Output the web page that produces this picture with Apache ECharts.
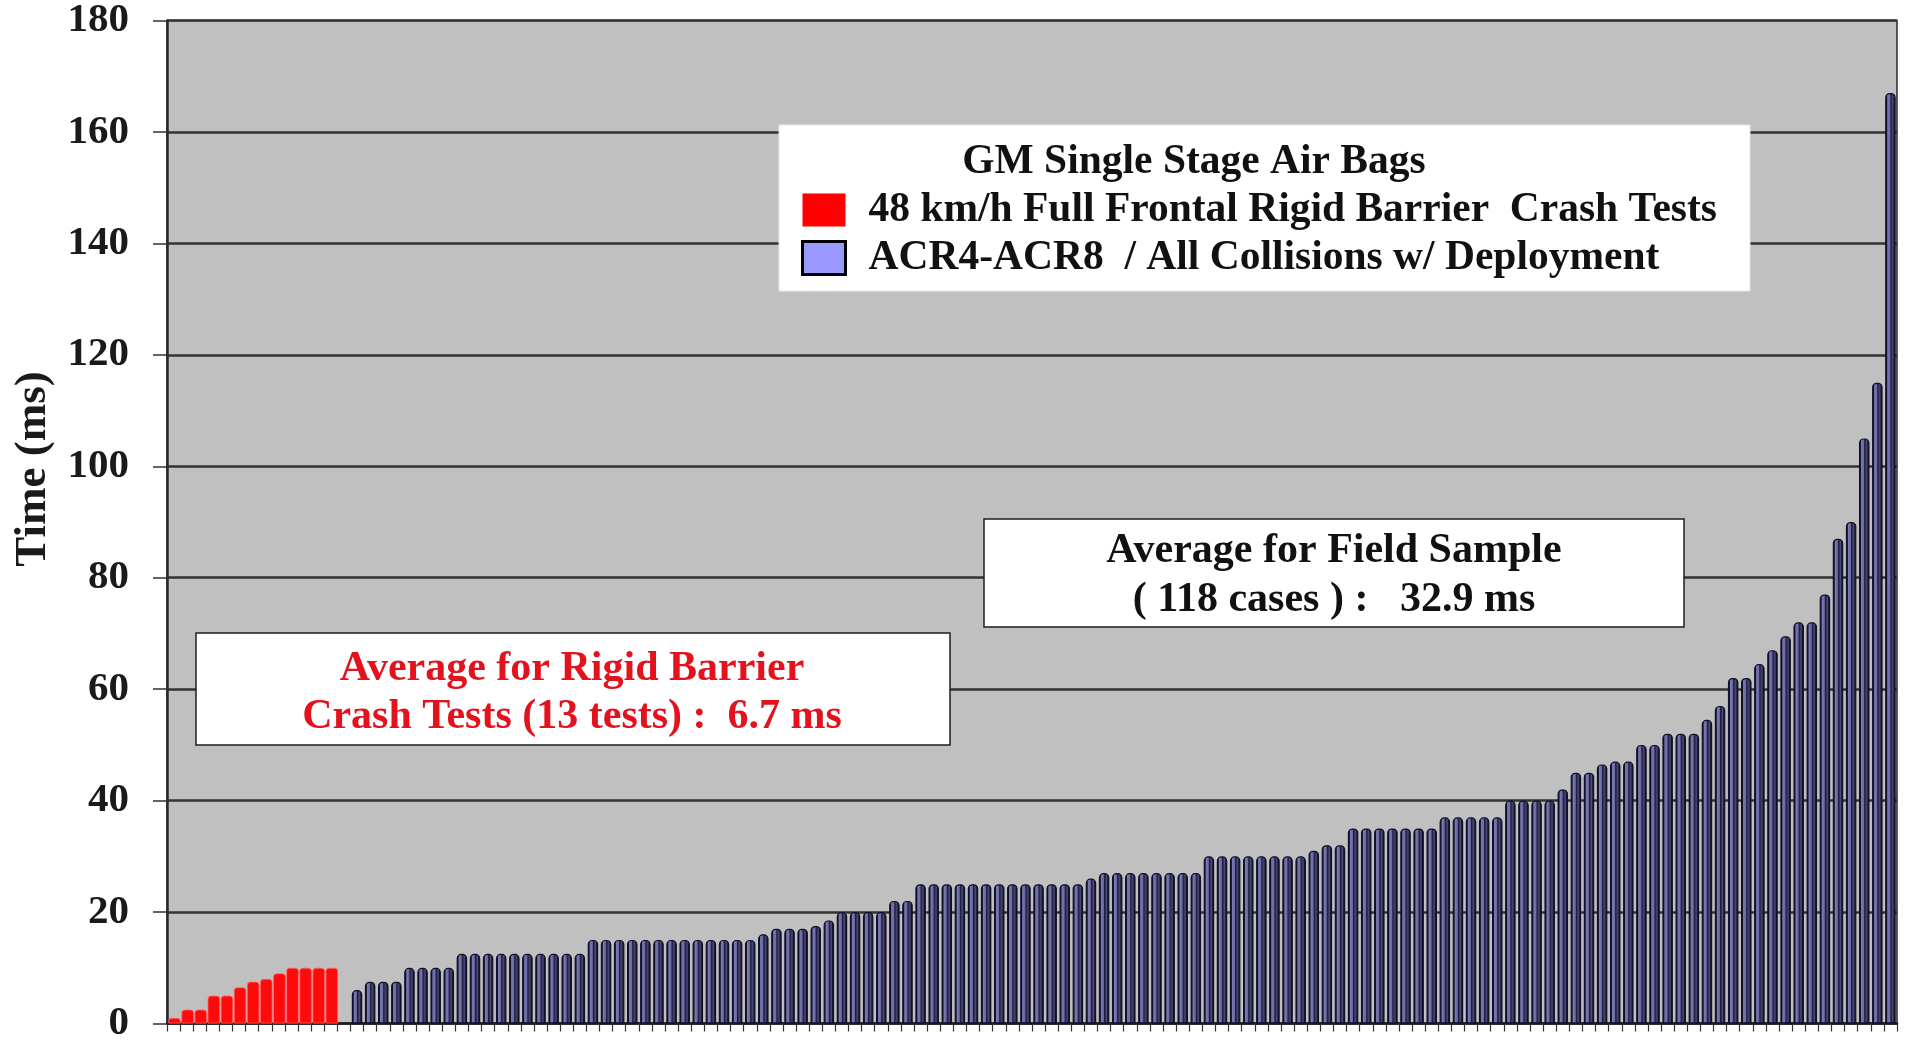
<!DOCTYPE html>
<html>
<head>
<meta charset="utf-8">
<title>GM Single Stage Air Bags – deployment time</title>
<script src="https://cdn.jsdelivr.net/npm/echarts@6/dist/echarts.min.js"></script>
<style>
  html, body { margin: 0; padding: 0; background: #ffffff; }
  #chart { width: 1909px; height: 1044px; }
</style>
</head>
<body>
<div id="chart"></div>
<script>
// Deployment time (ms) for each 48 km/h rigid barrier crash test, sorted
const barrierTests = [1, 2.5, 2.5, 5, 5, 6.5, 7.5, 8, 9, 10, 10, 10, 10];

// Deployment time (ms) for each field collision (ACR4-ACR8), sorted
const fieldCases = [
  6, 7.5, 7.5, 7.5, 10, 10, 10, 10,
  12.5, 12.5, 12.5, 12.5, 12.5, 12.5, 12.5, 12.5, 12.5, 12.5,
  15, 15, 15, 15, 15, 15, 15, 15, 15, 15, 15, 15, 15,
  16, 17, 17, 17, 17.5, 18.5, 20, 20, 20, 20, 22, 22,
  25, 25, 25, 25, 25, 25, 25, 25, 25, 25, 25, 25, 25,
  26, 27, 27, 27, 27, 27, 27, 27, 27,
  30, 30, 30, 30, 30, 30, 30, 30,
  31, 32, 32, 35, 35, 35, 35, 35, 35, 35,
  37, 37, 37, 37, 37, 40, 40, 40, 40,
  42, 45, 45, 46.5, 47, 47, 50, 50, 52, 52, 52,
  54.5, 57, 62, 62, 64.5, 67, 69.5, 72, 72, 77,
  87, 90, 105, 115, 167
];

const yTicks = [0, 20, 40, 60, 80, 100, 120, 140, 160, 180];

const legendTitle = 'GM Single Stage Air Bags';
const barrierName = '48 km/h Full Frontal Rigid Barrier  Crash Tests';
const fieldName = 'ACR4-ACR8  / All Collisions w/ Deployment';
const barrierNote = ['Average for Rigid Barrier', 'Crash Tests (13 tests) :  6.7 ms'];
const fieldNote = ['Average for Field Sample', '( 118 cases ) :   32.9 ms'];

// one slot per test, an empty slot, then one slot per field case
const categories = [];
barrierTests.forEach((_, i) => categories.push('T' + (i + 1)));
categories.push('');
fieldCases.forEach((_, i) => categories.push('C' + (i + 1)));

const gapSlots = 1;
const barrierData = barrierTests.concat(new Array(gapSlots + fieldCases.length).fill('-'));
const fieldData = new Array(barrierTests.length + gapSlots).fill('-').concat(fieldCases);

const serif = "'Liberation Serif', 'Times New Roman', serif";

const chart = echarts.init(document.getElementById('chart'), null, { renderer: 'canvas' });

chart.setOption({
  animation: false,
  backgroundColor: '#ffffff',
  grid: {
    left: 167, right: 12, top: 18, bottom: 15,
    show: true,
    backgroundColor: '#c0c0c0',
    borderColor: '#2a2a2a',
    borderWidth: 1.5
  },
  xAxis: {
    type: 'category',
    data: categories,
    boundaryGap: true,
    axisLine: { show: true, lineStyle: { color: '#1e1e1e', width: 2.5 } },
    axisTick: { show: true, interval: 0, inside: false, length: 8, lineStyle: { color: '#333333', width: 1.2 } },
    axisLabel: { show: false },
    splitLine: { show: false }
  },
  yAxis: {
    type: 'value',
    min: yTicks[0],
    max: yTicks[yTicks.length - 1],
    interval: yTicks[1] - yTicks[0],
    axisLine: { show: true, lineStyle: { color: '#2a2a2a', width: 2.5 } },
    axisTick: { show: true, inside: false, length: 14, lineStyle: { color: '#333333', width: 1.5 } },
    axisLabel: {
      margin: 38,
      color: '#1a1a1a',
      fontFamily: serif,
      fontWeight: 'bold',
      fontSize: 41
    },
    splitLine: { show: true, lineStyle: { color: '#333333', width: 2.5 } }
  },
  legend: {
    orient: 'vertical',
    left: 796,
    top: 184,
    itemWidth: 43,
    itemHeight: 33,
    itemGap: 6,
    selectedMode: false,
    icon: 'rect',
    z: 6,
    textStyle: {
      fontFamily: serif,
      fontWeight: 'bold',
      fontSize: 41.5,
      color: '#111111',
      lineHeight: 33,
      padding: [0, 0, 0, 18]
    },
    data: [
      { name: barrierName, itemStyle: { color: '#ff0000', borderWidth: 0 } },
      { name: fieldName, itemStyle: { color: '#9999ff', borderColor: '#000000', borderWidth: 3 } }
    ]
  },
  series: [
    {
      name: barrierName,
      type: 'bar',
      data: barrierData,
      barWidth: 12.5,
      barGap: '-100%',
      itemStyle: {
        color: '#ff0a0a',
        borderColor: '#ff6a6a',
        borderWidth: 0.8,
        borderRadius: [3, 3, 0, 0]
      }
    },
    {
      name: fieldName,
      type: 'bar',
      data: fieldData,
      barWidth: 10.5,
      barGap: '-100%',
      itemStyle: {
        color: {
          type: 'linear', x: 0, y: 0, x2: 1, y2: 0,
          colorStops: [
            { offset: 0, color: '#101028' },
            { offset: 0.14, color: '#101028' },
            { offset: 0.24, color: '#7878b4' },
            { offset: 0.44, color: '#6a6aa4' },
            { offset: 0.54, color: '#1e1e3c' },
            { offset: 0.74, color: '#4a4a78' },
            { offset: 0.87, color: '#101028' },
            { offset: 1, color: '#101028' }
          ]
        },
        borderColor: '#101028',
        borderWidth: 1.2,
        borderRadius: [4, 4, 0, 0]
      }
    }
  ],
  graphic: [
    // axis title
    {
      type: 'text',
      x: 33, y: 469,
      rotation: Math.PI / 2,
      z: 10,
      style: {
        text: 'Time (ms)',
        fontFamily: serif, fontWeight: 'bold', fontSize: 45,
        fill: '#1a1a1a',
        align: 'center', verticalAlign: 'middle'
      }
    },
    // legend panel
    {
      type: 'rect',
      z: 5,
      shape: { x: 779, y: 125, width: 971, height: 166 },
      style: { fill: '#ffffff', stroke: '#e6e6e6', lineWidth: 1 }
    },
    {
      type: 'text',
      x: 1194, y: 162, z: 10,
      style: {
        text: legendTitle,
        fontFamily: serif, fontWeight: 'bold', fontSize: 41.5,
        fill: '#111111', align: 'center', verticalAlign: 'middle'
      }
    },
    // field sample note
    {
      type: 'rect',
      z: 5,
      shape: { x: 984, y: 519, width: 700, height: 108 },
      style: { fill: '#ffffff', stroke: '#1e1e1e', lineWidth: 1.5 }
    },
    {
      type: 'text',
      x: 1334, y: 551, z: 10,
      style: {
        text: fieldNote[0],
        fontFamily: serif, fontWeight: 'bold', fontSize: 42,
        fill: '#111111', align: 'center', verticalAlign: 'middle'
      }
    },
    {
      type: 'text',
      x: 1334, y: 600, z: 10,
      style: {
        text: fieldNote[1],
        fontFamily: serif, fontWeight: 'bold', fontSize: 42,
        fill: '#111111', align: 'center', verticalAlign: 'middle'
      }
    },
    // rigid barrier note
    {
      type: 'rect',
      z: 5,
      shape: { x: 196, y: 633, width: 754, height: 112 },
      style: { fill: '#ffffff', stroke: '#1e1e1e', lineWidth: 1.5 }
    },
    {
      type: 'text',
      x: 572, y: 669, z: 10,
      style: {
        text: barrierNote[0],
        fontFamily: serif, fontWeight: 'bold', fontSize: 42,
        fill: '#e3121c', align: 'center', verticalAlign: 'middle'
      }
    },
    {
      type: 'text',
      x: 572, y: 717, z: 10,
      style: {
        text: barrierNote[1],
        fontFamily: serif, fontWeight: 'bold', fontSize: 42,
        fill: '#e3121c', align: 'center', verticalAlign: 'middle'
      }
    }
  ]
});
</script>
</body>
</html>
